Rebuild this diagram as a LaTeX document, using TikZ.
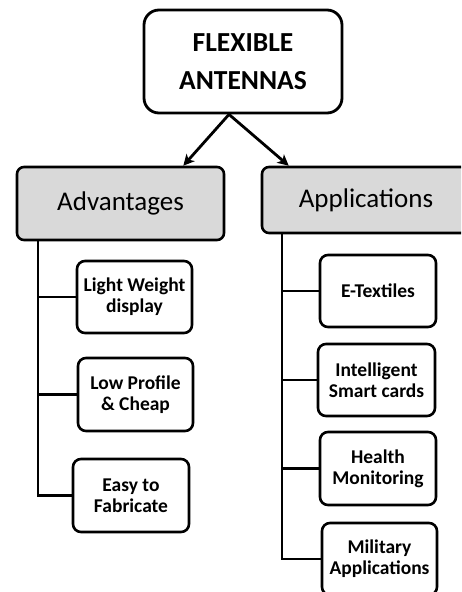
\documentclass[tikz,border=0pt]{standalone}
\usepackage{fontspec}
\setmainfont{Carlito}
\usetikzlibrary{arrows.meta}
\tikzset{
  box/.style={draw=black, line width=2.6pt, rounded corners=8pt, fill=white,
    align=center, inner sep=0pt, font=\bfseries\fontsize{19.5}{21}\selectfont},
  catbox/.style={draw=black, line width=2.6pt, rounded corners=7pt, fill=gray!30,
    align=center, inner sep=0pt, font=\fontsize{27}{32}\selectfont},
  titlebox/.style={draw=black, line width=2.8pt, rounded corners=15pt, fill=white,
    align=center, inner sep=0pt, font=\bfseries\fontsize{27.5}{38}\selectfont},
  link/.style={draw=black, line width=2.6pt},
  arr/.style={draw=black, line width=2.8pt, -{Stealth[length=11pt,width=11pt,inset=3pt]}}
}
\begin{document}
\begin{tikzpicture}[x=1pt,y=-1pt]
\useasboundingbox (0,0) rectangle (461,592);
\clip (0,0) rectangle (461,592);
\node[titlebox, minimum width=198pt, minimum height=103pt] (top) at (243,61.5) {FLEXIBLE\\ANTENNAS};
\node[catbox, minimum width=207pt, minimum height=73pt] (adv) at (120.5,203.5) {Advantages};
\node[catbox, minimum width=208pt, minimum height=66pt] (app) at (366,200) {Applications};
\node[box, minimum width=115pt, minimum height=72pt] (lw) at (134.5,297) {Light Weight\\display};
\node[box, minimum width=115pt, minimum height=73pt] (lp) at (135.5,394.5) {Low Profile\\\&{} Cheap};
\node[box, minimum width=116pt, minimum height=73pt] (ef) at (131,495.5) {Easy to\\Fabricate};
\node[box, minimum width=116pt, minimum height=72pt] (et) at (378,291) {E-Textiles};
\node[box, minimum width=117pt, minimum height=72pt] (is) at (376.5,380) {Intelligent\\Smart cards};
\node[box, minimum width=116pt, minimum height=73pt] (hm) at (378,468.5) {Health\\Monitoring};
\node[box, minimum width=115pt, minimum height=72pt] (ma) at (379.5,559) {Military\\Applications};
% arrows
\draw[arr] ([xshift=-14pt]top.south) -- ([xshift=-42pt]adv.north east);
\draw[arr] ([xshift=-14pt]top.south) -- ([xshift=28pt]app.north west);
% left trunk
\coordinate (lt) at (38,240);
\draw[link] (lt) |- (ef.west);
\draw[link] (lt |- lw.west) -- (lw.west);
\draw[link] (lt |- lp.west) -- (lp.west);
% right trunk
\coordinate (rt) at (282,233);
\draw[link] (rt) |- (ma.west);
\draw[link] (rt |- et.west) -- (et.west);
\draw[link] (rt |- is.west) -- (is.west);
\draw[link] (rt |- hm.west) -- (hm.west);
\end{tikzpicture}
\end{document}
